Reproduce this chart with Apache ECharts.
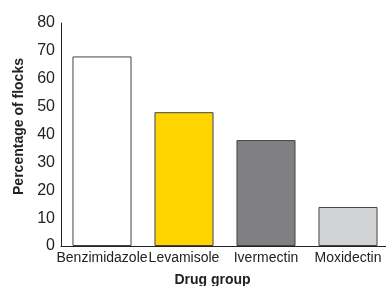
<!DOCTYPE html>
<html>
<head>
<meta charset="utf-8">
<script src="https://cdn.jsdelivr.net/npm/echarts@6/dist/echarts.min.js"></script>
<style>
  html, body { margin: 0; padding: 0; background: #fff; }
  #chart { width: 386px; height: 286px; }
</style>
</head>
<body>
<div id="chart"></div>
<script>
// 数据
const drugGroups = ['Benzimidazole', 'Levamisole', 'Ivermectin', 'Moxidectin'];
const flockPercent = [68, 48, 38, 14];
const barColors = ['#ffffff', '#ffd400', '#808083', '#d2d3d5'];
const yTicks = { min: 0, max: 80, interval: 10 };

const font = '"Liberation Sans", Arial, sans-serif';

function initChart() {
    const chart = echarts.init(document.getElementById('chart'));
    chart.setOption({
        animation: false,
        grid: { left: 61, top: 23, bottom: 40, width: 328, containLabel: false, outerBoundsMode: 'none' },
        xAxis: {
            type: 'category',
            data: drugGroups,
            name: 'Drug group',
            nameLocation: 'middle',
            nameGap: 27,
            nameTextStyle: { fontFamily: font, fontSize: 14, fontWeight: 'bold', color: '#222', padding: [0, 25, 0, 0] },
            axisLine: { lineStyle: { color: '#222', width: 1 } },
            axisTick: { show: false },
            axisLabel: { fontFamily: font, fontSize: 14, color: '#222', margin: 5, interval: 0 }
        },
        yAxis: {
            type: 'value',
            min: yTicks.min,
            max: yTicks.max,
            interval: yTicks.interval,
            name: 'Percentage of flocks',
            nameLocation: 'middle',
            nameGap: 35,
            nameTextStyle: { fontFamily: font, fontSize: 14, fontWeight: 'bold', color: '#222', padding: [0, 0, 0, 16] },
            axisLine: { show: true, lineStyle: { color: '#222', width: 1 } },
            axisTick: { show: false },
            splitLine: { show: false },
            axisLabel: { fontFamily: font, fontSize: 16, color: '#222', margin: 6 }
        },
        series: [{
            type: 'bar',
            barCategoryGap: '28%',
            data: flockPercent.map((v, i) => ({
                value: v,
                itemStyle: { color: barColors[i], borderColor: '#444', borderWidth: 1 }
            }))
        }]
    });
}

initChart();
</script>
</body>
</html>
